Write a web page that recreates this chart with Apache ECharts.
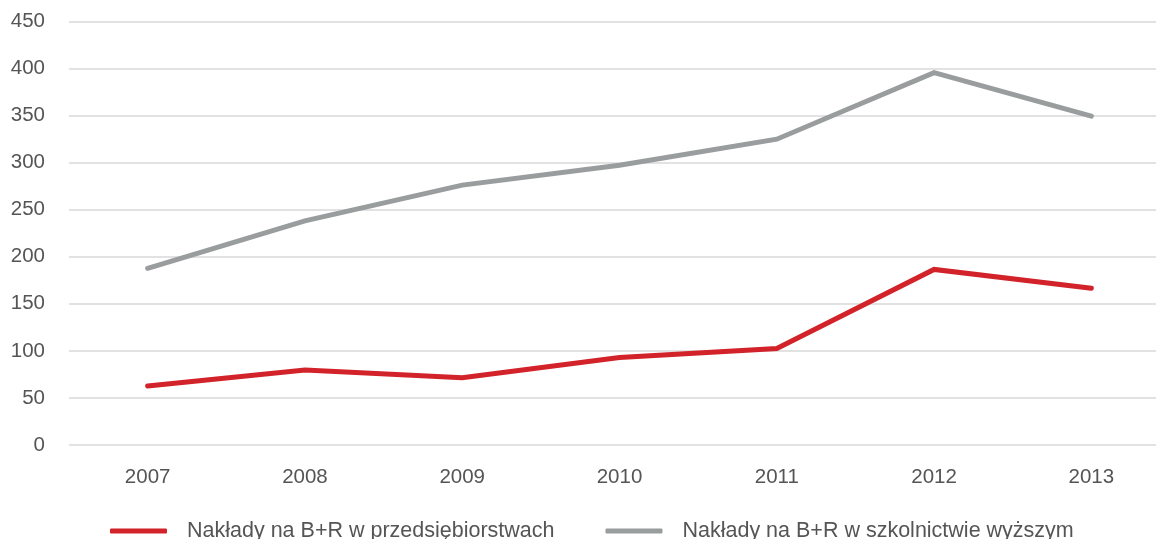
<!DOCTYPE html>
<html>
<head>
<meta charset="utf-8">
<script src="https://cdn.jsdelivr.net/npm/echarts@6/dist/echarts.min.js"></script>
<style>
  html, body { margin: 0; padding: 0; background: #ffffff; }
  #chart { width: 1156px; height: 539px; }
</style>
</head>
<body>
<div id="chart"></div>
<script>
// Years on the category axis
const years = ['2007', '2008', '2009', '2010', '2011', '2012', '2013'];

// R&D expenditure in enterprises
const enterpriseRD = [62.7, 79.7, 71.5, 93, 102.5, 186.5, 166.5];

// R&D expenditure in higher education
const higherEduRD = [187.7, 238, 276, 297.2, 324.8, 395.4, 349.3];

const seriesNames = [
  'Nakłady na B+R w przedsiębiorstwach',
  'Nakłady na B+R w szkolnictwie wyższym'
];

const textColor = '#555555';
const fontFamily = '"Liberation Sans", Arial, Helvetica, sans-serif';

const chart = echarts.init(document.getElementById('chart'), null, { renderer: 'canvas' });

chart.setOption({
  animation: false,
  backgroundColor: '#ffffff',
  textStyle: { fontFamily: fontFamily },
  // plot area runs past the right edge, so the last category band is clipped
  grid: {
    left: 69, width: 1101, top: 21.3, bottom: 94,
    containLabel: false, outerBoundsMode: 'none'
  },
  legend: {
    left: 110,
    top: 520,
    padding: 0,
    itemWidth: 57,
    itemHeight: 5,
    itemGap: 51,
    icon: 'roundRect',
    textStyle: { color: textColor, fontSize: 21.5, fontFamily: fontFamily, padding: [0, 0, 0, 15] },
    data: seriesNames
  },
  xAxis: {
    type: 'category',
    data: years,
    boundaryGap: true,
    axisLine: { show: false },
    axisTick: { show: false },
    axisLabel: { color: textColor, fontSize: 20.5, margin: 22 }
  },
  yAxis: {
    type: 'value',
    min: 0,
    max: 450,
    interval: 50,
    axisLine: { show: false },
    axisTick: { show: false },
    axisLabel: { color: textColor, fontSize: 20.5, margin: 24 },
    splitLine: { lineStyle: { color: '#d9d9d9', width: 1.5 } }
  },
  series: [
    {
      name: seriesNames[0],
      type: 'line',
      data: enterpriseRD,
      symbol: 'none',
      color: '#d2232a',
      lineStyle: { color: '#d2232a', width: 5, cap: 'round', join: 'miter' }
    },
    {
      name: seriesNames[1],
      type: 'line',
      data: higherEduRD,
      symbol: 'none',
      color: '#9a9d9e',
      lineStyle: { color: '#9a9d9e', width: 5, cap: 'round', join: 'miter' }
    }
  ]
});
</script>
</body>
</html>
